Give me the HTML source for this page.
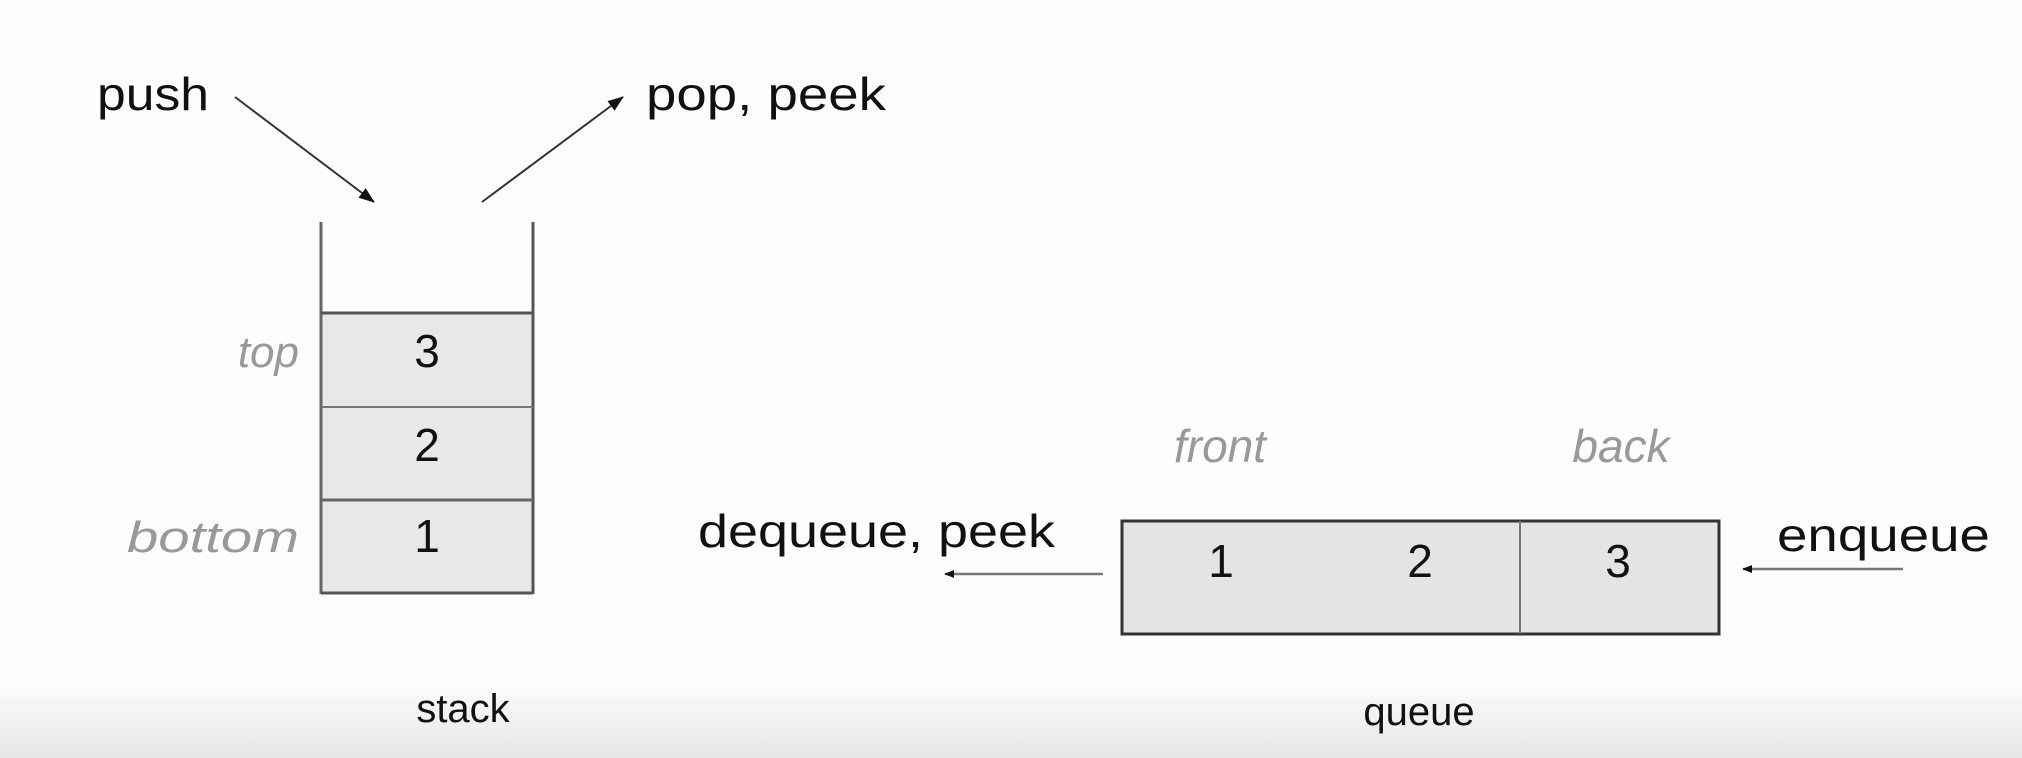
<!DOCTYPE html>
<html><head><style>
html,body{margin:0;padding:0;width:2022px;height:758px;overflow:hidden;background:#fdfdfd;}
text{font-family:"Liberation Sans",sans-serif;}
</style></head><body>
<svg width="2022" height="758" viewBox="0 0 2022 758" xmlns="http://www.w3.org/2000/svg">
<defs>
<linearGradient id="g" x1="0" y1="0" x2="0" y2="1">
<stop offset="0" stop-color="#fdfdfd"/><stop offset="1" stop-color="#e6e6e6"/>
</linearGradient>
<marker id="a" markerWidth="10" markerHeight="10" refX="9" refY="5" orient="auto" markerUnits="userSpaceOnUse" viewBox="0 0 10 10">
<path d="M0,1 L10,5 L0,9 z" fill="#111"/>
</marker>
<marker id="b" markerWidth="16" markerHeight="16" refX="15" refY="8" orient="auto" markerUnits="userSpaceOnUse" viewBox="0 0 16 16">
<path d="M0,2 L16,8 L0,14 z" fill="#111"/>
</marker>
</defs>
<rect x="0" y="680" width="2022" height="78" fill="url(#g)"/>

<text x="97" y="110" font-size="46" fill="#111" textLength="112" lengthAdjust="spacingAndGlyphs">push</text>
<text x="646" y="110" font-size="46" fill="#111" textLength="240" lengthAdjust="spacingAndGlyphs">pop, peek</text>
<line x1="235" y1="97" x2="374" y2="202" stroke="#333" stroke-width="2" marker-end="url(#b)"/>
<line x1="482" y1="202" x2="623" y2="97" stroke="#333" stroke-width="2" marker-end="url(#b)"/>

<rect x="321" y="313" width="212" height="280" fill="#e8e8e8"/>
<line x1="321" y1="222" x2="321" y2="594" stroke="#666" stroke-width="3"/>
<line x1="533" y1="222" x2="533" y2="594" stroke="#555" stroke-width="3"/>
<line x1="321" y1="313" x2="533" y2="313" stroke="#555" stroke-width="3"/>
<line x1="321" y1="407" x2="533" y2="407" stroke="#777" stroke-width="2"/>
<line x1="321" y1="500" x2="533" y2="500" stroke="#666" stroke-width="3"/>
<line x1="321" y1="593" x2="533" y2="593" stroke="#555" stroke-width="3"/>
<text x="427" y="367" font-size="46" fill="#111" text-anchor="middle">3</text>
<text x="427" y="461" font-size="46" fill="#111" text-anchor="middle">2</text>
<text x="427" y="552" font-size="46" fill="#111" text-anchor="middle">1</text>
<text x="299" y="367" font-size="44" fill="#999" font-style="italic" text-anchor="end">top</text>
<text x="299" y="552" font-size="44" fill="#999" font-style="italic" text-anchor="end" textLength="172" lengthAdjust="spacingAndGlyphs">bottom</text>
<text x="463" y="722" font-size="40" fill="#111" text-anchor="middle">stack</text>

<rect x="1122" y="521" width="597" height="113" fill="#e4e4e4" stroke="#333" stroke-width="3"/>
<line x1="1520" y1="521" x2="1520" y2="634" stroke="#777" stroke-width="2"/>
<text x="1221" y="577" font-size="46" fill="#111" text-anchor="middle">1</text>
<text x="1420" y="577" font-size="46" fill="#111" text-anchor="middle">2</text>
<text x="1618" y="577" font-size="46" fill="#111" text-anchor="middle">3</text>
<text x="1220" y="462" font-size="46" fill="#999" font-style="italic" text-anchor="middle">front</text>
<text x="1621" y="462" font-size="46" fill="#999" font-style="italic" text-anchor="middle">back</text>
<text x="698" y="547" font-size="46" fill="#111" textLength="357" lengthAdjust="spacingAndGlyphs">dequeue, peek</text>
<line x1="1103" y1="574" x2="945" y2="574" stroke="#777" stroke-width="2.5" marker-end="url(#a)"/>
<text x="1777" y="551" font-size="46" fill="#111" textLength="213" lengthAdjust="spacingAndGlyphs">enqueue</text>
<line x1="1903" y1="569" x2="1743" y2="569" stroke="#777" stroke-width="2.5" marker-end="url(#a)"/>
<text x="1419" y="725" font-size="40" fill="#111" text-anchor="middle">queue</text>
</svg>
</body></html>
